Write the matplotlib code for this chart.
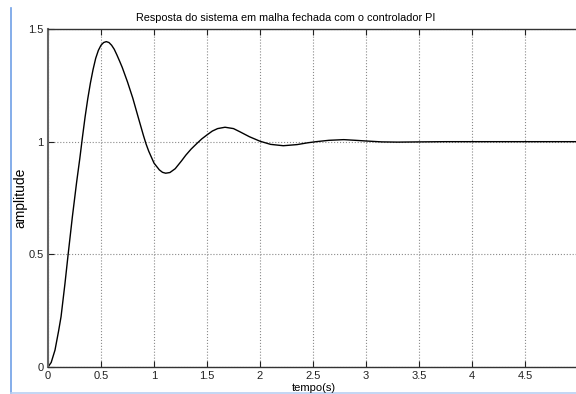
import numpy as np
import matplotlib.pyplot as plt
from matplotlib.lines import Line2D

plt.rcParams['font.family'] = ['Liberation Sans', 'DejaVu Sans']

# closed-loop step response with the PI controller (sampled from the plot)
tempo = [0.00, 0.03, 0.066, 0.10, 0.123, 0.16, 0.19, 0.23, 0.27, 0.30,
         0.325, 0.35, 0.375, 0.40, 0.425, 0.45, 0.475, 0.50, 0.525, 0.55,
         0.575, 0.60, 0.625, 0.65, 0.675, 0.70, 0.75, 0.80, 0.85, 0.90,
         0.925, 0.95, 1.00, 1.05, 1.08, 1.11, 1.15, 1.20, 1.26, 1.30,
         1.35, 1.40, 1.45, 1.50, 1.55, 1.60, 1.67, 1.75, 1.81, 1.90,
         2.00, 2.10, 2.22, 2.35, 2.45, 2.53, 2.65, 2.79, 2.90, 3.00,
         3.15, 3.30, 3.50, 3.75, 4.00, 4.50, 5.00]
amplitude = [0.000, 0.020, 0.075, 0.160, 0.223, 0.370, 0.500, 0.667, 0.820, 0.925,
             1.020, 1.110, 1.190, 1.260, 1.320, 1.370, 1.405, 1.428, 1.440, 1.444,
             1.440, 1.428, 1.410, 1.385, 1.358, 1.330, 1.265, 1.193, 1.110, 1.028,
             0.990, 0.958, 0.905, 0.875, 0.864, 0.860, 0.863, 0.880, 0.915, 0.940,
             0.967, 0.990, 1.012, 1.030, 1.047, 1.058, 1.064, 1.058, 1.044, 1.022,
             1.002, 0.988, 0.982, 0.987, 0.995, 1.000, 1.006, 1.009, 1.006, 1.003,
             0.999, 0.998, 0.999, 1.000, 1.000, 1.000, 1.000]

xticks = [0, 0.5, 1, 1.5, 2, 2.5, 3, 3.5, 4, 4.5]
xticklabels = ['0', '0.5', '1', '1.5', '2', '2.5', '3', '3.5', '4', '4.5']
yticks = [0, 0.5, 1, 1.5]
yticklabels = ['0', '0.5', '1', '1.5']

fig = plt.figure(figsize=(5.76, 3.94), dpi=100)
ax = fig.add_axes([48 / 576, 27 / 394, 530 / 576, 338 / 394])

ax.plot(tempo, amplitude, color='black', linewidth=1.0)

ax.set_xlim(0, 5)
ax.set_ylim(0, 1.5)
ax.set_xticks(xticks)
ax.set_xticklabels(xticklabels)
ax.set_yticks(yticks)
ax.set_yticklabels(yticklabels)
ax.tick_params(direction='in', length=4, width=0.8, labelsize=8,
               top=True, right=False, pad=3, colors='#222222')
ax.grid(True, linestyle=':', color='#8a8a8a', linewidth=0.8)

for side in ['left', 'bottom', 'top']:
    ax.spines[side].set_linewidth(1.0)
    ax.spines[side].set_color('#333333')
ax.spines['left'].set_color('#666666')
ax.spines['left'].set_linewidth(1.5)
ax.spines['right'].set_visible(False)

fig.text(286 / 576, 1 - 18 / 394, 'Resposta do sistema em malha fechada com o controlador PI',
         ha='center', va='center', fontsize=7.8)
fig.text(314 / 576, 1 - 388 / 394, 'tempo(s)', ha='center', va='center', fontsize=8)
fig.text(20 / 576, 1 - 198 / 394, 'amplitude', ha='center', va='center',
         rotation=90, fontsize=10)

# page border lines
fig.add_artist(Line2D([11 / 576, 11 / 576], [1 - 393 / 394, 1 - 8 / 394],
                      transform=fig.transFigure, color='#6f9fe6', linewidth=1.2))
fig.add_artist(Line2D([11 / 576, 1.0], [1 - 392.5 / 394, 1 - 392.5 / 394],
                      transform=fig.transFigure, color='#b9d0f2', linewidth=1.2))

fig.savefig('out.png', dpi=100)
